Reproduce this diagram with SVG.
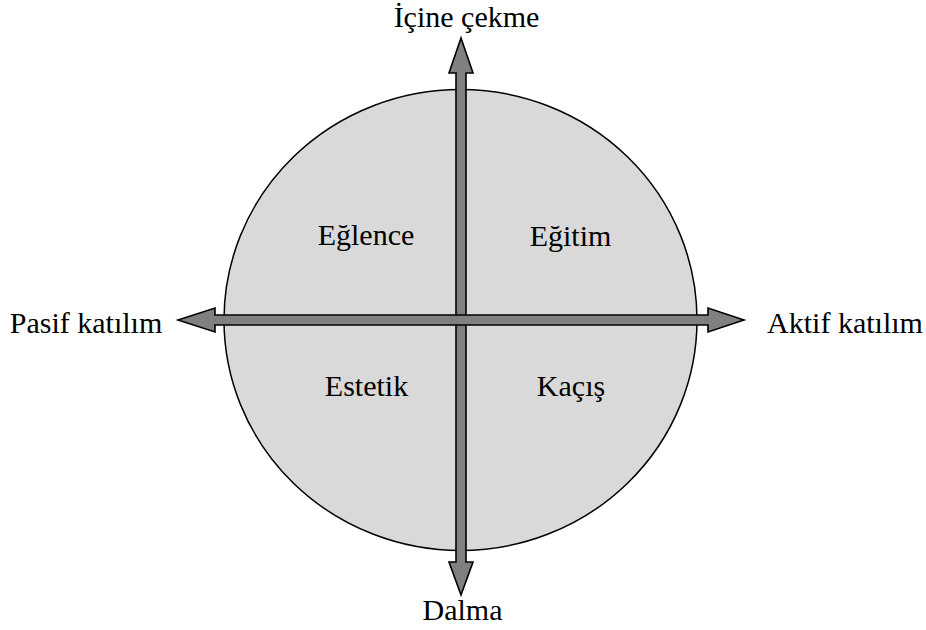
<svg xmlns="http://www.w3.org/2000/svg" width="926" height="630" viewBox="0 0 926 630">
<style>
text{font-family:"Liberation Serif","Times New Roman",serif;font-size:30px;fill:#000;text-anchor:middle}
.arr{fill:#808080;stroke:#000;stroke-width:1.6;stroke-linejoin:miter}
</style>
<rect width="926" height="630" fill="#fff"/>
<g id="circle">
<ellipse cx="460.5" cy="320" rx="236.5" ry="230.5" fill="#d9d9d9" stroke="#000" stroke-width="1.5"/>
</g>
<g id="connectors">
<path class="arr" d="M461,38 L473,73 L466,73 L466,562 L473,562 L461,595 L449,562 L456,562 L456,73 L449,73 Z"/>
<path class="arr" d="M178,320 L215,308 L215,315 L708,315 L708,308 L744,320 L708,332 L708,325 L215,325 L215,332 Z"/>
</g>
<g id="q1"><text x="366" y="245">Eğlence</text></g>
<g id="q2"><text x="570.5" y="246">Eğitim</text></g>
<g id="q3"><text x="366.5" y="396">Estetik</text></g>
<g id="q4"><text x="571" y="396">Kaçış</text></g>
<g id="top"><text x="466.5" y="27">İçine çekme</text></g>
<g id="bottom"><text x="462.5" y="620">Dalma</text></g>
<g id="left"><text x="86" y="333">Pasif katılım</text></g>
<g id="right"><text x="845" y="333">Aktif katılım</text></g>
</svg>
